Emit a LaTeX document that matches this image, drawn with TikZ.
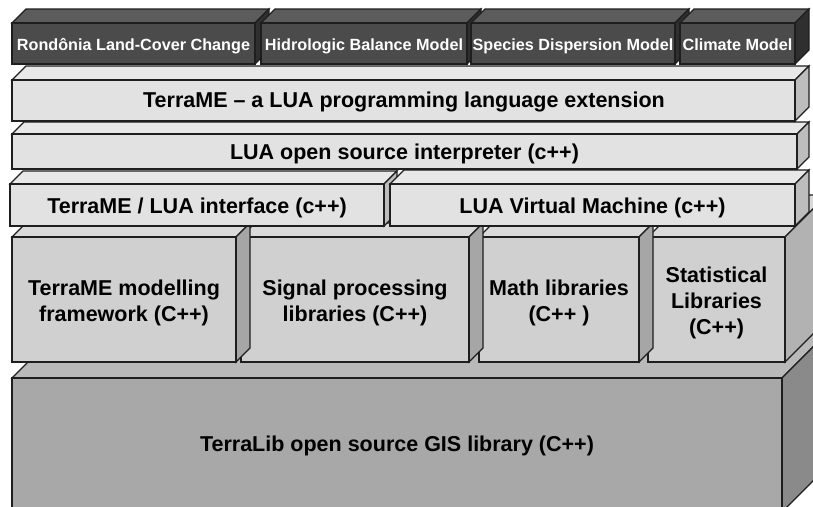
\documentclass[tikz,border=0pt]{standalone}
\usepackage{fontspec}
\setmainfont{Liberation Sans}
\definecolor{dkfront}{HTML}{4B4B4B}
\definecolor{dktop}{HTML}{5C5C5C}
\definecolor{dkside}{HTML}{2F2F2F}
\definecolor{ltfront}{HTML}{E2E2E2}
\definecolor{lttop}{HTML}{E8E8E8}
\definecolor{ltside}{HTML}{BDBDBD}
\definecolor{lbfront}{HTML}{D0D0D0}
\definecolor{lbtop}{HTML}{DADADA}
\definecolor{lbside}{HTML}{A6A6A6}
\definecolor{stside}{HTML}{B2B2B2}
\definecolor{tlfront}{HTML}{A8A8A8}
\definecolor{tltop}{HTML}{B9B9B9}
\definecolor{tlside}{HTML}{8A8A8A}
\definecolor{edge}{HTML}{1E1E1E}
% \tmbox{x1}{y1}{x2}{y2}{depth}{front}{top}{side}
\newcommand\tmbox[8]{%
  \filldraw[boxline,fill=#7] (#1,#2) -- ({#1+#5},{#2-#5}) -- ({#3+#5},{#2-#5}) -- (#3,#2) -- cycle;
  \filldraw[boxline,fill=#8] (#3,#2) -- ({#3+#5},{#2-#5}) -- ({#3+#5},{#4-#5}) -- (#3,#4) -- cycle;
  \filldraw[boxline,fill=#6] (#1,#2) rectangle (#3,#4);
}
\begin{document}
\begin{tikzpicture}[x=1pt,y=-1pt,
  boxline/.style={draw=edge,line width=1.1pt},
  lbl/.style={font=\bfseries\fontsize{21.5}{26}\selectfont,align=center,text=black,inner sep=0pt},
  toplbl/.style={font=\bfseries\fontsize{16.2}{18}\selectfont,text=white,inner sep=0pt,anchor=base}]
\clip (0,0) rectangle (813,506);
\fill[white] (0,0) rectangle (813,506);
% TerraLib base
\tmbox{12}{378}{782}{512}{50}{tlfront}{tltop}{tlside}
% library row
\tmbox{648}{237}{785}{362}{42}{lbfront}{lbtop}{stside}
\tmbox{479}{237}{639}{362}{14}{lbfront}{lbtop}{lbside}
\tmbox{241}{237}{469}{362}{14}{lbfront}{lbtop}{lbside}
\tmbox{12}{237}{236}{362}{14}{lbfront}{lbtop}{lbside}
% row 4
\tmbox{10}{184}{384}{226}{13}{ltfront}{lttop}{ltside}
\tmbox{390}{184}{795}{226}{14}{ltfront}{lttop}{ltside}
% row 3
\tmbox{12}{134}{797}{169}{12}{ltfront}{lttop}{ltside}
% row 2
\tmbox{12}{80}{795}{121}{14}{ltfront}{lttop}{ltside}
% top row
\tmbox{12}{23}{255}{64}{14}{dkfront}{dktop}{dkside}
\tmbox{261}{23}{467}{64}{14}{dkfront}{dktop}{dkside}
\tmbox{471}{23}{675}{64}{14}{dkfront}{dktop}{dkside}
\tmbox{680}{23}{795}{64}{14}{dkfront}{dktop}{dkside}
% labels
\node[toplbl] (m1) at (133.5,50) {Rondônia Land-Cover Change};
\node[toplbl] (m2) at (364,50) {Hidrologic Balance Model};
\node[toplbl] (m3) at (573,50) {Species Dispersion Model};
\node[toplbl] (m4) at (737.5,50) {Climate Model};
\node[lbl,anchor=base] (ext) at (404,107.5) {TerraME – a LUA programming language extension};
\node[lbl,anchor=base] (interp) at (404.5,159.5) {LUA open source interpreter (c++)};
\node[lbl,anchor=base] (iface) at (197,213) {TerraME / LUA interface (c++)};
\node[lbl,anchor=base] (vm) at (592.5,213) {LUA Virtual Machine (c++)};
\node[lbl] (fw) at (124,303) {TerraME modelling\\framework (C++)};
\node[lbl] (sig) at (355,303) {Signal processing\\libraries (C++)};
\node[lbl] (math) at (559,303) {Math libraries\\(C++ )};
\node[lbl] (stat) at (716.5,303) {Statistical\\Libraries\\(C++)};
\node[lbl,anchor=base] (tlib) at (397,451) {TerraLib open source GIS library (C++)};
\end{tikzpicture}
\end{document}
